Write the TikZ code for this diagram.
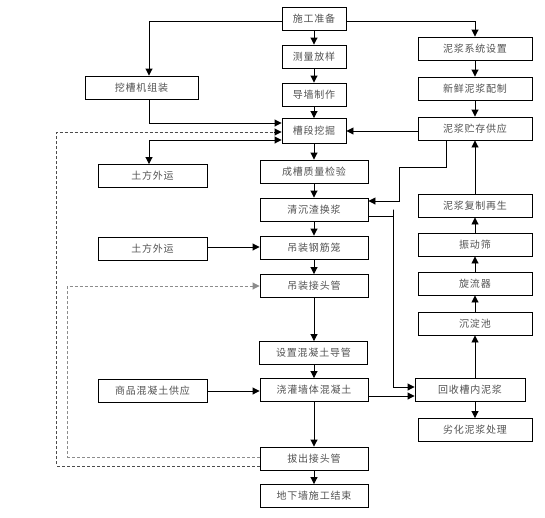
\documentclass[tikz,border=0pt]{standalone}
\usepackage{fontspec}
\newfontfamily\cjk[LetterSpace=8]{Noto Sans CJK SC}
\usetikzlibrary{arrows.meta,calc}
\begin{document}
\begin{tikzpicture}[x=1pt,y=-1pt,
  box/.style={draw,line width=0.9pt,minimum height=23pt,inner sep=0pt,
    font=\cjk\fontsize{10}{12}\selectfont,text=black!68},
  narrow/.style={box,minimum width=64pt},
  mid/.style={box,minimum width=108pt},
  side/.style={box,minimum width=109pt},
  right/.style={box,minimum width=114pt},
  arr/.style={line width=0.9pt,-{Triangle[length=7pt,width=7pt]}},
  both/.style={line width=0.9pt,{Triangle[length=7pt,width=7pt]}-{Triangle[length=7pt,width=7pt]}},
  dashA/.style={line width=0.9pt,draw=black!70,dash pattern=on 3pt off 2pt},
  dashB/.style={line width=0.9pt,draw=black!45,dash pattern=on 3pt off 2pt}]
\useasboundingbox (0,0) rectangle (545,517);
% centre column
\node[narrow] (sg) at (314,18.5) {施工准备};
\node[narrow] (cl) at (314,56.5) {测量放样};
\node[narrow] (dq) at (314,94.5) {导墙制作};
\node[narrow,minimum height=25pt] (cd) at (314,131) {槽段挖掘};
\node[mid] (cc) at (314,171.5) {成槽质量检验};
\node[mid] (qc) at (314,209.5) {清沉渣换浆};
\node[mid] (gj) at (314,247.5) {吊装钢筋笼};
\node[mid] (jt) at (314,286) {吊装接头管};
\node[mid] (dg) at (313.5,353) {设置混凝土导管};
\node[mid] (jg) at (314,390) {浇灌墙体混凝土};
\node[mid] (bc) at (314,458.5) {拔出接头管};
\node[mid] (js) at (314,496) {地下墙施工结束};
% left column
\node[box,minimum width=113pt] (wc) at (141.5,87.5) {挖槽机组装};
\node[side] (tf1) at (152.5,176) {土方外运};
\node[side] (tf2) at (152.5,248.5) {土方外运};
\node[side] (sp) at (152.5,391) {商品混凝土供应};
% right column
\node[right] (nx) at (475,48.5) {泥浆系统设置};
\node[right] (xx) at (475,88.5) {新鲜泥浆配制};
\node[right] (zc) at (475,128.5) {泥浆贮存供应};
\node[right] (fz) at (475,205.5) {泥浆复制再生};
\node[right] (zd) at (475,244.5) {振动筛};
\node[right] (xl) at (475,283.5) {旋流器};
\node[right] (cdc) at (475,323.5) {沉淀池};
\node[box,minimum width=110pt] (hs) at (470,390) {回收槽内泥浆};
\node[right] (lh) at (475,430) {劣化泥浆处理};
% main chain
\draw[arr] (sg) -- (cl);
\draw[arr] (cl) -- (dq);
\draw[arr] (dq) -- (cd);
\draw[arr] (cd) -- (cc);
\draw[arr] (cc) -- (qc);
\draw[arr] (qc) -- (gj);
\draw[arr] (gj) -- (jt);
\draw[arr] (jt.south) -- (jt.south |- dg.north);
\draw[arr] (dg.south -| jg.north) -- (jg.north);
\draw[arr] (jg) -- (bc);
\draw[arr] (bc) -- (js);
% top branches
\draw[arr] ($(sg.west)+(0,2.5)$) -| ($(wc.north)+(7.5,0)$);
\draw[arr] ($(sg.east)+(0,2.5)$) -| (nx.north);
\draw[arr] ($(wc.south)+(7.5,0)$) |- ($(cd.west)+(0,-8)$);
\draw[both] ($(cd.west)+(0,9)$) -| ($(tf1.north)+(-3.5,0)$);
% dashed returns
\draw[dashA] ($(bc.west)+(0,7.5)$) -| ($(cd.west)+(-225,1)$) -- ($(cd.west)+(-8,1)$);
\draw[line width=0.9pt,-{Triangle[length=7pt,width=7pt]}] ($(cd.west)+(-8,1)$) -- ($(cd.west)+(0,1)$);
\draw[dashB] ($(bc.west)+(0,-1.5)$) -| ($(jt.west)+(-192,0)$) -- ($(jt.west)+(-8,0)$);
\draw[line width=0.9pt,draw=black!45,-{Triangle[length=7pt,width=7pt]}] ($(jt.west)+(-8,0)$) -- (jt.west);
% left inputs
\draw[arr] ($(tf2.east)+(0,-1.5)$) -- ($(gj.west)+(0,-0.5)$);
\draw[arr] (sp.east) -- (sp.east -| jg.west);
% slurry supply
\draw[arr] (zc.west |- cd.east) -- (cd.east);
\draw[arr] ($(zc.south)+(-29,0)$) |- ($(zc.south)+(-76,26.5)$) |- ($(qc.east)+(0,-8.5)$);
% slurry recovery
\draw[arr] ($(qc.east)+(0,6.5)$) -| ($(qc.east)+(25,0)$) |- ($(hs.west)+(0,-3)$);
\draw[arr] ($(jg.east)+(0,6)$) -- ($(hs.west)+(0,6)$);
\draw[arr] (hs.north -| cdc.south) -- (cdc.south);
\draw[arr] (cdc) -- (xl);
\draw[arr] (xl) -- (zd);
\draw[arr] (zd) -- (fz);
\draw[arr] (fz) -- (zc);
\draw[arr] (hs.south -| lh.north) -- (lh.north);
\draw[arr] (nx) -- (xx);
\draw[arr] (xx) -- (zc);
\end{tikzpicture}
\end{document}
